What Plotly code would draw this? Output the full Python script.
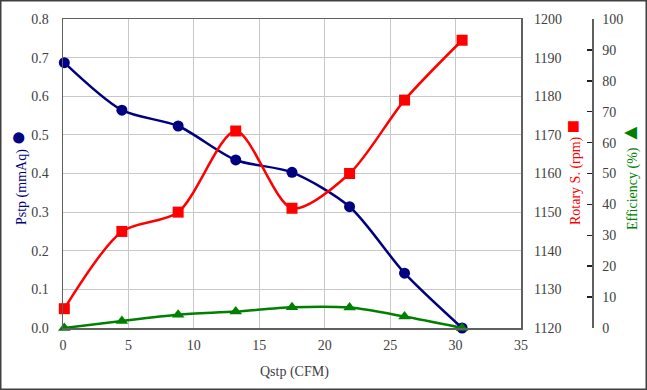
import plotly.graph_objects as go

# Data
qstp = [0.1, 4.5, 8.8, 13.2, 17.5, 21.9, 26.1, 30.5]
pstp = [0.687, 0.564, 0.523, 0.435, 0.403, 0.314, 0.142, 0.0]
rotary = [1125, 1145, 1150, 1171, 1151, 1160, 1179, 1194.5]
efficiency = [0.0, 2.3, 4.3, 5.3, 6.7, 6.6, 3.7, 0.0]

W, H = 647, 390
L, R, T, B = 63, 55, 19, 62
PW = W - L - R
PH = H - T - B
plot_right = 521

def px(x):
    return (x - L) / PW

def py(y):
    return (H - B - y) / PH

FONT = "Liberation Serif"
TICKC = "#404040"

fig = go.Figure()
fig.add_trace(go.Scatter(
    x=qstp, y=pstp, mode="lines+markers", name="Pstp",
    line=dict(color="#000080", width=2.5, shape="spline", smoothing=0.8),
    marker=dict(symbol="circle", size=11, color="#000080"),
    yaxis="y", cliponaxis=False))
fig.add_trace(go.Scatter(
    x=qstp, y=rotary, mode="lines+markers", name="Rotary",
    line=dict(color="#FF0000", width=2.5, shape="spline", smoothing=0.8),
    marker=dict(symbol="square", size=11, color="#FF0000"),
    yaxis="y2", cliponaxis=False))
fig.add_trace(go.Scatter(
    x=qstp, y=efficiency, mode="lines+markers", name="Efficiency",
    line=dict(color="#008000", width=2.5, shape="spline", smoothing=0.8),
    marker=dict(symbol="triangle-up", size=11, color="#008000"),
    yaxis="y3", cliponaxis=False))

fig.update_layout(
    width=W, height=H,
    margin=dict(l=L, r=R, t=T, b=B, autoexpand=False),
    paper_bgcolor="white", plot_bgcolor="white",
    showlegend=False,
    font=dict(family=FONT, size=14, color=TICKC),
    xaxis=dict(
        domain=[0, (plot_right - L) / PW], range=[0, 35], dtick=5,
        showgrid=True, gridcolor="#c8c8c8", gridwidth=1,
        showline=True, linecolor="#606060", linewidth=1.5, mirror=True,
        ticks="", zeroline=False, ticklabelstandoff=4,
        tickfont=dict(family=FONT, size=14, color=TICKC)),
    yaxis=dict(
        range=[0, 0.8], dtick=0.1, tickformat=".1f",
        showgrid=True, gridcolor="#c8c8c8", gridwidth=1,
        showline=True, linecolor="#606060", linewidth=1.5, mirror=True,
        ticks="", zeroline=False, ticklabelstandoff=10,
        tickfont=dict(family=FONT, size=14, color=TICKC)),
    yaxis2=dict(
        range=[1120, 1200], dtick=10, overlaying="y", side="right", anchor="x",
        showgrid=False, showline=False, ticks="", zeroline=False,
        ticklabelstandoff=12,
        tickfont=dict(family=FONT, size=14, color=TICKC)),
    yaxis3=dict(
        range=[0, 100], dtick=10, overlaying="y", side="right", anchor="free",
        position=1.0, showgrid=False, showline=True, linecolor="#606060",
        linewidth=1.5, ticks="inside", ticklen=5, tickcolor="#202020",
        tickwidth=1.5, zeroline=False, ticklabelstandoff=6,
        tickfont=dict(family=FONT, size=14, color=TICKC)),
)

ann = [
    dict(text='Pstp (mmAq) <span style="font-size:26px">●</span>',
         x=px(17), y=py(178), font=dict(family=FONT, size=14, color="#000080")),
    dict(text='Rotary S. (rpm) <span style="font-size:22px">■</span>',
         x=px(572), y=py(173), font=dict(family=FONT, size=14, color="#FF0000")),
    dict(text='Efficiency (%) <span style="font-size:22px">▲</span>',
         x=px(629), y=py(176), font=dict(family=FONT, size=14, color="#008000")),
]
for a in ann:
    fig.add_annotation(xref="paper", yref="paper", showarrow=False,
                       textangle=-90, xanchor="center", yanchor="middle", **a)

fig.add_annotation(text="Qstp (CFM)", xref="paper", yref="paper",
                   x=px(294), y=py(372), showarrow=False,
                   xanchor="center", yanchor="middle",
                   font=dict(family=FONT, size=14, color=TICKC))

fig.add_shape(type="rect", xref="paper", yref="paper",
              x0=px(0.75), x1=px(646.25), y0=py(389.25), y1=py(0.75),
              line=dict(color="#404040", width=1.5), fillcolor="rgba(0,0,0,0)")

fig.write_html("out.html",
               config={"displayModeBar": False, "staticPlot": True},
               post_script="document.body.style.margin='0';document.body.style.overflow='hidden';")
